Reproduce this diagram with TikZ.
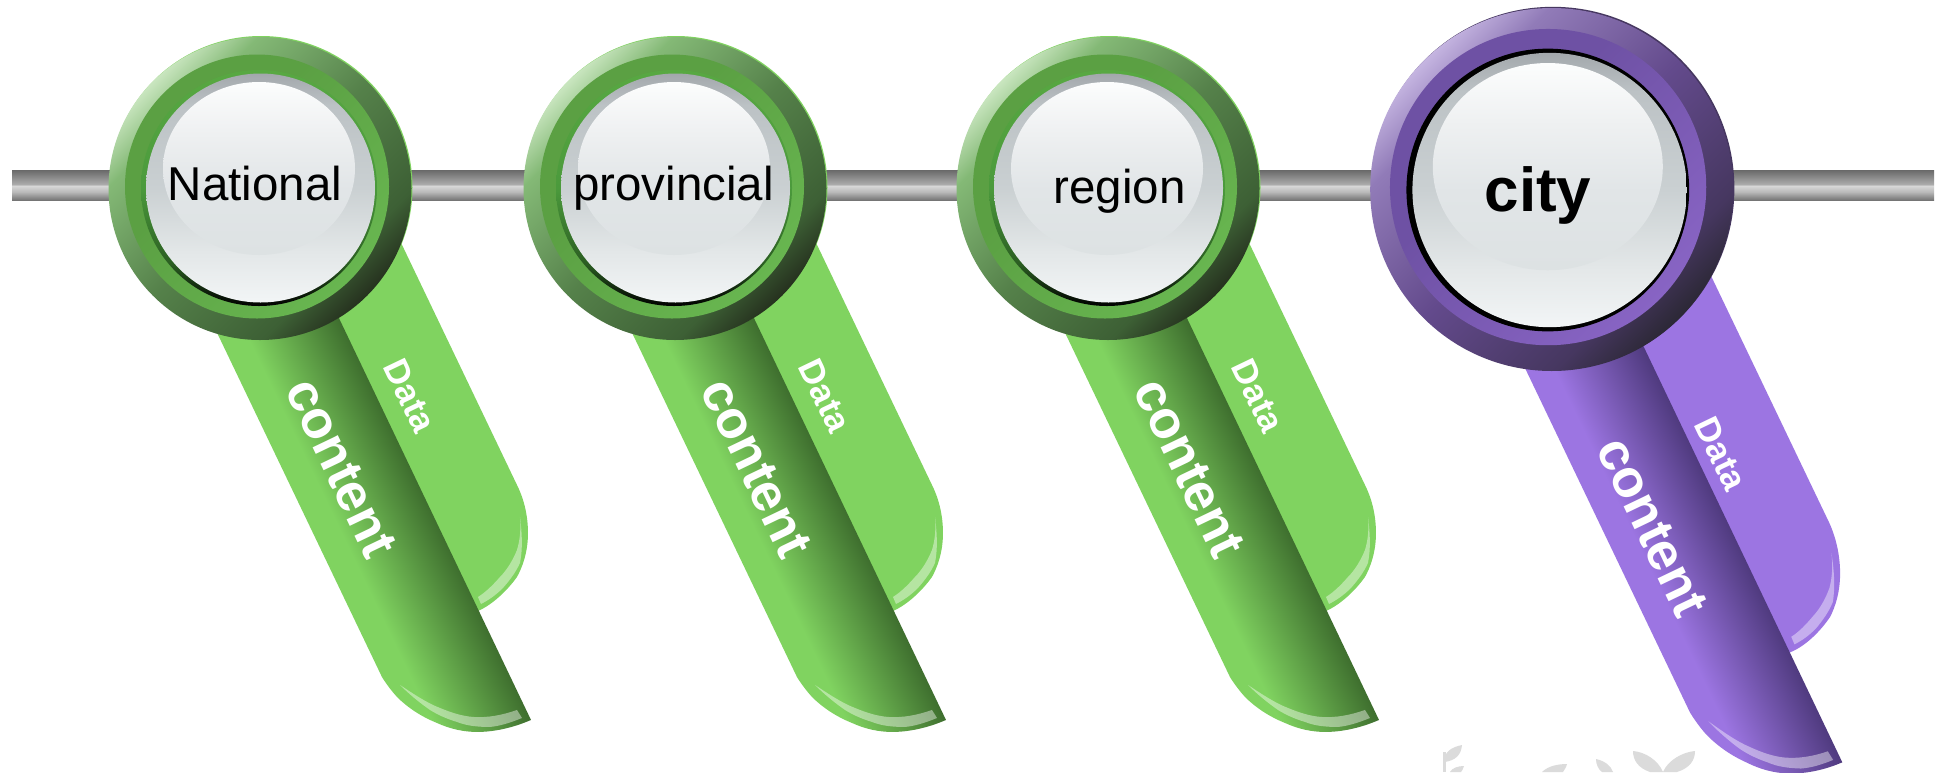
\documentclass[tikz,border=0pt]{standalone}
\usepackage{fontspec}
\setmainfont{Liberation Sans}
\definecolor{gLight}{HTML}{80D360}
\definecolor{gDark}{HTML}{3E6E2E}
\definecolor{pLight}{HTML}{9C75E2}
\definecolor{pDark}{HTML}{4F3A7E}
\pgfdeclareverticalshading{ribG}{100bp}{color(0bp)=(gLight);color(25bp)=(gLight);color(36bp)=(gLight);color(75bp)=(gDark);color(100bp)=(gDark)}
\pgfdeclareverticalshading{ribP}{100bp}{color(0bp)=(pLight);color(25bp)=(pLight);color(36bp)=(pLight);color(75bp)=(pDark);color(100bp)=(pDark)}
\definecolor{rgA}{HTML}{C8E5BE}\definecolor{rgB}{HTML}{84B976}\definecolor{rgC}{HTML}{55814A}\definecolor{rgD}{HTML}{3D6035}\definecolor{rgE}{HTML}{26321F}
\definecolor{rpA}{HTML}{C4B4E0}\definecolor{rpB}{HTML}{917BB8}\definecolor{rpC}{HTML}{634A8C}\definecolor{rpD}{HTML}{463760}\definecolor{rpE}{HTML}{2C2836}
\pgfdeclarehorizontalshading{outG}{100bp}{color(0bp)=(rgA);color(25bp)=(rgA);color(32bp)=(rgB);color(50bp)=(rgC);color(68bp)=(rgD);color(75bp)=(rgE);color(100bp)=(rgE)}
\pgfdeclarehorizontalshading{outP}{100bp}{color(0bp)=(rpA);color(25bp)=(rpA);color(32bp)=(rpB);color(50bp)=(rpC);color(68bp)=(rpD);color(75bp)=(rpE);color(100bp)=(rpE)}
\definecolor{bgA}{HTML}{5BA043}\definecolor{bgB}{HTML}{68B650}
\definecolor{bpA}{HTML}{6E51A4}\definecolor{bpB}{HTML}{8864C4}
\pgfdeclarehorizontalshading{bandG}{100bp}{color(0bp)=(bgA);color(40bp)=(bgA);color(75bp)=(bgB);color(100bp)=(bgB)}
\pgfdeclarehorizontalshading{bandP}{100bp}{color(0bp)=(bpA);color(40bp)=(bpA);color(75bp)=(bpB);color(100bp)=(bpB)}
\definecolor{irA}{HTML}{58A842}\definecolor{irB}{HTML}{4B9A3C}\definecolor{irC}{HTML}{2B5E22}
\pgfdeclareverticalshading{innerG}{100bp}{color(0bp)=(black);color(25bp)=(black);color(34bp)=(irC);color(50bp)=(irB);color(75bp)=(irA);color(100bp)=(irA)}
\pgfdeclareverticalshading{innerP}{100bp}{color(0bp)=(black);color(100bp)=(black)}
\definecolor{dA}{HTML}{F2F5F6}\definecolor{dB}{HTML}{E3E7E8}\definecolor{dC}{HTML}{CAD0D2}\definecolor{dD}{HTML}{BCC2C5}\definecolor{dE}{HTML}{A3A8AC}
\pgfdeclareverticalshading{discA}{100bp}{color(0bp)=(dA);color(25bp)=(dA);color(36bp)=(dB);color(50bp)=(dC);color(68bp)=(dD);color(75bp)=(dE);color(100bp)=(dE)}
\definecolor{lA}{HTML}{DDE2E3}\definecolor{lB}{HTML}{E1E5E7}\definecolor{lM}{HTML}{EEF0F1}\definecolor{lC}{HTML}{FCFDFD}
\pgfdeclareverticalshading{discL}{100bp}{color(0bp)=(lA);color(25bp)=(lA);color(44bp)=(lB);color(60bp)=(lM);color(75bp)=(lC);color(100bp)=(lC)}
\definecolor{bTop}{HTML}{696969}\definecolor{bMid}{HTML}{ADADAD}\definecolor{bHi}{HTML}{DADADA}\definecolor{bLow}{HTML}{B8B8B8}\definecolor{bBot}{HTML}{6F6F6F}
\pgfdeclareverticalshading{barS}{100bp}{color(0bp)=(bBot);color(25bp)=(bBot);color(39bp)=(bLow);color(50bp)=(bHi);color(51bp)=(bMid);color(75bp)=(bTop);color(100bp)=(bTop)}
\tikzset{
  hilite/.style={fill=white,fill opacity=.42},
  lab/.style={font=\fontsize{47.5}{47.5}\selectfont,text=black,anchor=base,inner sep=0pt},
  citylab/.style={font=\fontsize{62}{62}\selectfont\bfseries,text=black,anchor=base,inner sep=0pt},
  rc/.style={font=\fontsize{53}{53}\selectfont\bfseries,text=white,rotate=-64.4,inner sep=0pt},
  rd/.style={font=\fontsize{35}{35}\selectfont\bfseries,text=white,rotate=-64.4,inner sep=0pt},
  leaf/.style={fill=black!14}
}
% cx cy stretch-along-ribbon shading light-colour data-offset
\newcommand{\ribbonset}[6]{%
  \begin{scope}[transform canvas={shift={(#1,#2)},rotate=-64.4,xscale=#3,rotate=64.4}]
    \begin{scope}[shift={#6}]
    \fill[#5] (25,40) -- (90,-29) -- (99,-33) -- (257,297) .. controls (265,313) and (268,330) .. (268,345)
      .. controls (268,365) and (262,380) .. (257,389)
      .. controls (247,403) and (232,417) .. (218,423) -- (209,427) -- cycle;
    \fill[hilite] (260,329) .. controls (261,342) and (260,352) .. (257,362)
      .. controls (253,372) and (247,382) .. (240,389)
      .. controls (233,397) and (226,404) .. (218,409) -- (221,416)
      .. controls (229,412) and (236,407) .. (243,400)
      .. controls (250,392) and (256,384) .. (260,375)
      .. controls (263,360) and (262,345) .. (260,329) -- cycle;
    \end{scope}
    \begin{scope}
      \clip (-84,59) -- (111,469) .. controls (118,484) and (127,498) .. (137,509)
        .. controls (148,520) and (162,529) .. (177,535)
        .. controls (190,541) and (204,544) .. (217,544)
        .. controls (236,544) and (255,539) .. (271,532) -- (34,36) -- cycle;
      \begin{scope}[transform canvas={rotate=-64.4}]
        \shade[shading=#4] (-20,-15.1) rectangle (640,101.3);
      \end{scope}
    \end{scope}
    \fill[hilite] (140,497) .. controls (155,507) and (167,515) .. (180,520)
      .. controls (192,525) and (202,528) .. (213,529)
      .. controls (228,530) and (243,527) .. (257,522) -- (262,530)
      .. controls (250,535) and (240,538) .. (230,539)
      .. controls (218,539) and (207,538) .. (197,534)
      .. controls (187,531) and (178,527) .. (170,522)
      .. controls (160,515) and (150,507) .. (140,497) -- cycle;
  \end{scope}}
% cx cy scale outer band peek-colour
\newcommand{\medal}[6]{%
  \begin{scope}[shift={(#1,#2)},scale=#3]
    \fill[#6] (1,-1) circle (151.5);
    \shade[shading=#4,shading angle=-45] (0,0) circle (151.5);
    \shade[shading=#5,shading angle=-45] (-3,-2) circle (132);
  \end{scope}}
\newcommand{\lens}[4]{%
  \begin{scope}[shift={(#1,#2)},scale=#3]
    \shade[shading=#4] (-1,0) circle (118);
    \shade[shading=discA] (0.5,0) circle (114.5);
    \shade[shading=discL] (-1,-19.5) ellipse (96 and 86.5);
  \end{scope}}
\begin{document}
\begin{tikzpicture}[x=1pt,y=-1pt]
  \useasboundingbox (0,0) rectangle (1939,772);
  \fill[white] (0,0) rectangle (1939,772);
  % watermark leaves
  \fill[leaf] (1443,752) rectangle (1445.5,772);
  \fill[leaf] (1445,762) .. controls (1443,752) and (1452,747) .. (1462,745) .. controls (1461,755) and (1456,760) .. (1445,762) -- cycle;
  \fill[leaf] (1450,772) .. controls (1452,768) and (1458,766) .. (1464,766) .. controls (1463,769) and (1462,771) .. (1461,772) -- cycle;
  \fill[leaf] (1542,772) .. controls (1548,766) and (1558,764) .. (1567,764) .. controls (1566,768) and (1564,770) .. (1563,772) -- cycle;
  \fill[leaf] (1596,759) .. controls (1605,761) and (1611,766) .. (1613,772) -- (1602,772) .. controls (1598,769) and (1596,764) .. (1596,759) -- cycle;
  \fill[leaf] (1633,751) .. controls (1645,752) and (1658,760) .. (1663,772) -- (1650,772) .. controls (1638,768) and (1633,760) .. (1633,751) -- cycle;
  \fill[leaf] (1695,751) .. controls (1683,752) and (1668,760) .. (1663,772) -- (1677,772) .. controls (1690,768) and (1695,760) .. (1695,751) -- cycle;
  % bar
  \shade[shading=barS] (12,170) rectangle (1934,200.7);
  % ribbons
  \ribbonset{260}{188}{1}{ribG}{gLight}{(0,0)}
  \ribbonset{675}{188}{1}{ribG}{gLight}{(0,0)}
  \ribbonset{1108}{188}{1}{ribG}{gLight}{(0,0)}
  \ribbonset{1552}{190}{1.075}{ribP}{pLight}{(6,6)}
  % medals
  \medal{260}{188.5}{1}{outG}{bandG}{gLight}
  \lens{260}{188}{1}{innerG}
  \medal{675}{188.5}{1}{outG}{bandG}{gLight}
  \lens{675}{188}{1}{innerG}
  \medal{1108}{188.5}{1}{outG}{bandG}{gLight}
  \lens{1108}{188}{1}{innerG}
  \medal{1551.7}{189.5}{1.198}{outP}{bandP}{rpD}
  \lens{1549}{190}{1.198}{innerP}
  % labels
  \node[lab] (n1) at (255,200) {National};
  \node[lab] (n2) at (673.5,200) {provincial};
  \node[lab] (n3) at (1119.7,203) {region};
  \node[citylab] (n4) at (1538,211.7) {city};
  \node[rc] (c1) at (341,468) {content};
  \node[rc] (c2) at (756,468) {content};
  \node[rc] (c3) at (1189,468) {content};
  \node[rc] (c4) at (1652,527) {content};
  \node[rd] (d1) at (410,396) {Data};
  \node[rd] (d2) at (825,396) {Data};
  \node[rd] (d3) at (1258,396) {Data};
  \node[rd] (d4) at (1721,454) {Data};
\end{tikzpicture}
\end{document}
